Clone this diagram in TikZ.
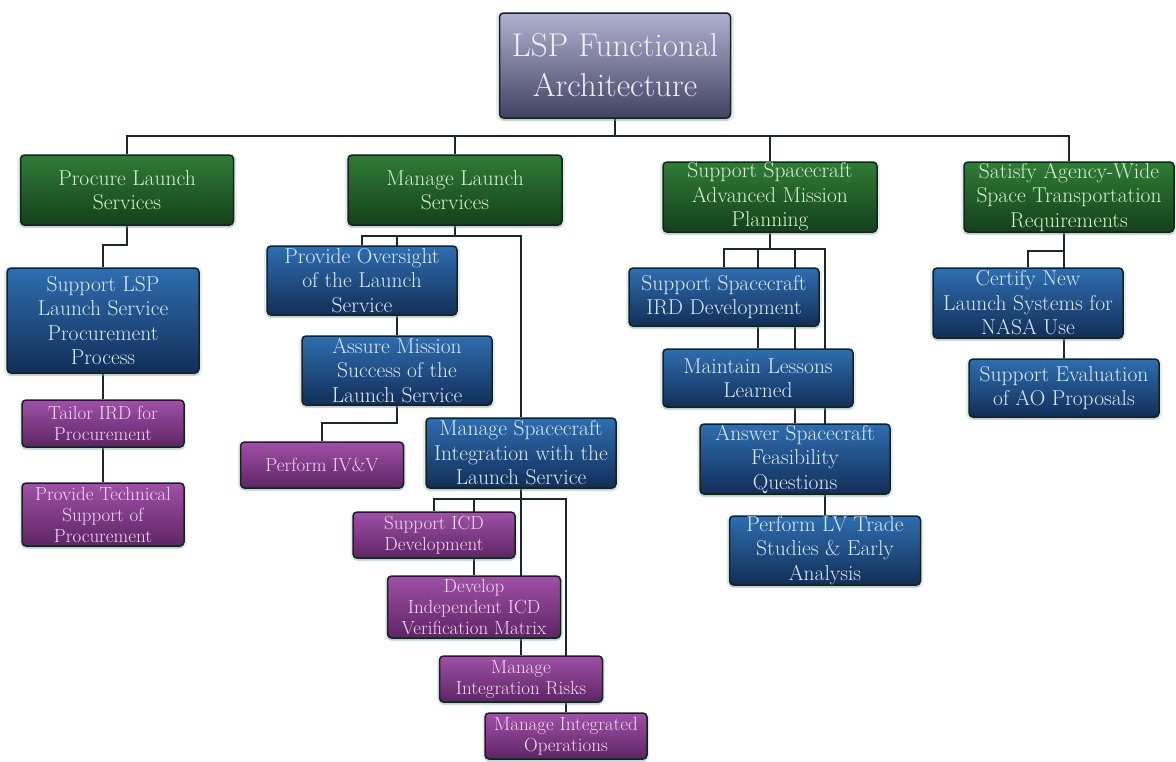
\documentclass[tikz,border=0pt]{standalone}
\usetikzlibrary{shadows,backgrounds}
\definecolor{linecol}{HTML}{1A2828}
\definecolor{bordercol}{HTML}{17221F}
\definecolor{glowcol}{HTML}{6FA6A6}
\definecolor{gtop}{HTML}{2F7C37}
\definecolor{gbot}{HTML}{15401B}
\definecolor{btop}{HTML}{2E6EB0}
\definecolor{bbot}{HTML}{122E58}
\definecolor{ptop}{HTML}{A050A8}
\definecolor{pbot}{HTML}{5E2464}
\definecolor{ttop}{HTML}{B0B0D0}
\definecolor{tbot}{HTML}{424264}
\definecolor{gtext}{HTML}{DCF0CC}
\definecolor{btext}{HTML}{DCEAFC}
\definecolor{ptext}{HTML}{F2DCF2}
\definecolor{ttext}{HTML}{EEEEF6}
\tikzset{
  boxbase/.style={draw=bordercol, line width=1.5pt, rounded corners=4pt,
    inner sep=0pt, align=center,
    drop shadow={shadow xshift=0pt, shadow yshift=-3pt, fill=glowcol, opacity=0.35},
    drop shadow={shadow xshift=0pt, shadow yshift=-1pt, shadow scale=1.03, fill=glowcol, opacity=0.2}},
  titlebox/.style={boxbase, top color=ttop, bottom color=tbot, text=ttext,
    font=\fontsize{33}{40}\selectfont},
  greenbox/.style={boxbase, top color=gtop, bottom color=gbot, text=gtext,
    font=\fontsize{21.5}{24.5}\selectfont},
  bluebox/.style={boxbase, top color=btop, bottom color=bbot, text=btext,
    font=\fontsize{21.5}{24.5}\selectfont},
  purplebox/.style={boxbase, top color=ptop, bottom color=pbot, text=ptext,
    font=\fontsize{19}{21}\selectfont},
  conn/.style={draw=linecol, line width=2pt}
}
\begin{document}
\begin{tikzpicture}[x=1pt, y=-1pt]
\useasboundingbox (0,0) rectangle (1176,761);
\begin{pgfonlayer}{background}
\fill[white] (0,0) rectangle (1176,761);
\end{pgfonlayer}

% title
\node[titlebox, minimum width=231pt, minimum height=105pt] (title) at (615,65.5) {LSP Functional\\Architecture};

% level 1
\node[greenbox, minimum width=213pt, minimum height=70pt] (proc) at (127,190) {Procure Launch\\Services};
\node[greenbox, minimum width=214pt, minimum height=70pt] (mls) at (455,190) {Manage Launch\\Services};
\node[greenbox, minimum width=214pt, minimum height=70pt] (ssamp) at (770,197) {Support Spacecraft\\Advanced Mission\\Planning};
\node[greenbox, minimum width=210pt, minimum height=70pt] (sat) at (1069,197) {Satisfy Agency-Wide\\Space Transportation\\Requirements};

% procure branch
\node[bluebox, minimum width=192pt, minimum height=105pt] (slsp) at (103,320.5) {Support LSP\\Launch Service\\Procurement\\Process};
\node[purplebox, minimum width=162pt, minimum height=47pt] (tailor) at (103,423.5) {Tailor IRD for\\Procurement};
\node[purplebox, minimum width=162pt, minimum height=63pt] (ptech) at (103,514.5) {Provide Technical\\Support of\\Procurement};

% manage branch
\node[bluebox, minimum width=190pt, minimum height=69pt] (po) at (362,280.5) {Provide Oversight\\of the Launch\\Service};
\node[bluebox, minimum width=190pt, minimum height=69pt] (am) at (397,370.5) {Assure Mission\\Success of the\\Launch Service};
\node[purplebox, minimum width=163pt, minimum height=46pt] (ivv) at (322,465) {Perform IV\&V};
\node[bluebox, minimum width=190pt, minimum height=70pt] (msi) at (521,453) {Manage Spacecraft\\Integration with the\\Launch Service};
\node[purplebox, minimum width=162pt, minimum height=46pt] (sicd) at (434,535) {Support ICD\\Development};
\node[purplebox, minimum width=173pt, minimum height=62pt] (dev) at (474,607) {Develop\\Independent ICD\\Verification Matrix};
\node[purplebox, minimum width=163pt, minimum height=46pt] (mir) at (521,679) {Manage\\Integration Risks};
\node[purplebox, minimum width=162pt, minimum height=46pt] (mio) at (566,736) {Manage Integrated\\Operations};

% spacecraft branch
\node[bluebox, minimum width=190pt, minimum height=58pt] (ird) at (724,297) {Support Spacecraft\\IRD Development};
\node[bluebox, minimum width=190pt, minimum height=58pt] (mll) at (758,378) {Maintain Lessons\\Learned};
\node[bluebox, minimum width=190pt, minimum height=70pt] (asf) at (795,459) {Answer Spacecraft\\Feasibility\\Questions};
\node[bluebox, minimum width=191pt, minimum height=69pt] (plv) at (825,550.5) {Perform LV Trade\\Studies \& Early\\Analysis};

% satisfy branch
\node[bluebox, minimum width=190pt, minimum height=70pt] (cert) at (1028,303) {Certify New\\Launch Systems for\\NASA Use};
\node[bluebox, minimum width=190pt, minimum height=58pt] (sev) at (1064,388) {Support Evaluation\\of AO Proposals};

% bus levels
\coordinate (b0) at (0,136);
\coordinate (b1) at (0,245);
\coordinate (b2) at (0,236);
\coordinate (b3) at (0,423);
\coordinate (b4) at (0,499);
\coordinate (b5) at (0,249);
\coordinate (b6) at (0,251);

\begin{pgfonlayer}{background}
\draw[conn] (title.south) -- (title.south |- b0);
\draw[conn] (proc.north) -- (proc.north |- b0) -- (sat.north |- b0) -- (sat.north);
\draw[conn] (mls.north) -- (mls.north |- b0);
\draw[conn] (ssamp.north) -- (ssamp.north |- b0);

\draw[conn] (proc.south) -- (proc.south |- b1) -- (slsp.north |- b1) -- (slsp.north);
\draw[conn] (slsp.south) -- (tailor.north);
\draw[conn] (tailor.south) -- (ptech.north);

\draw[conn] (mls.south) -- (mls.south |- b2);
\draw[conn] (po.north) -- (po.north |- b2) -- (msi.north |- b2) -- (msi.north);
\draw[conn] (am.north) -- (am.north |- b2);
\draw[conn] (am.south) -- (am.south |- b3) -- (ivv.north |- b3) -- (ivv.north);

\draw[conn] (msi.south) -- (msi.south |- b4);
\draw[conn] (sicd.north) -- (sicd.north |- b4) -- (mio.north |- b4) -- (mio.north);
\draw[conn] (dev.north) -- (dev.north |- b4);
\draw[conn] (mir.north) -- (mir.north |- b4);

\draw[conn] (ssamp.south) -- (ssamp.south |- b5);
\draw[conn] (ird.north) -- (ird.north |- b5) -- (plv.north |- b5) -- (plv.north);
\draw[conn] (mll.north) -- (mll.north |- b5);
\draw[conn] (asf.north) -- (asf.north |- b5);

\draw[conn] (sat.south -| sev.north) -- (sev.north |- b6);
\draw[conn] (cert.north) -- (cert.north |- b6) -- (sev.north |- b6) -- (sev.north);
\end{pgfonlayer}
\end{tikzpicture}
\end{document}
